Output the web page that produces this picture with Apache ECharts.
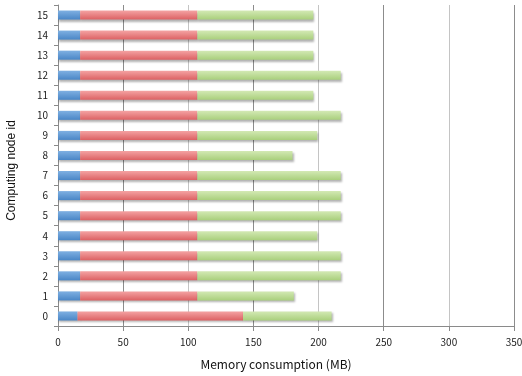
<!DOCTYPE html>
<html>
<head>
<meta charset="utf-8">
<script src="https://cdn.jsdelivr.net/npm/echarts@6/dist/echarts.min.js"></script>
<style>
  html, body { margin: 0; padding: 0; background: #fff; }
  #chart { width: 522px; height: 376px; }
</style>
</head>
<body>
<div id="chart"></div>
<script>
// Memory consumption per computing node, split into three stacked parts (MB)
const nodeIds = ['0','1','2','3','4','5','6','7','8','9','10','11','12','13','14','15'];
const partA = [15, 17, 17, 17, 17, 17, 17, 17, 17, 17, 17, 17, 17, 17, 17, 17];
const partB = [127, 90, 90, 90, 90, 90, 90, 90, 90, 90, 90, 90, 90, 90, 90, 90];
const partC = [68, 74, 110, 110, 92, 110, 110, 110, 73, 92, 110, 89, 110, 89, 89, 89];
const xTicks = { min: 0, max: 350, interval: 50 };

const labelFont = '"Noto Sans CJK JP", "DejaVu Sans", sans-serif';

function grad(top, bottom) {
  return new echarts.graphic.LinearGradient(0, 0, 0, 1, [
    { offset: 0, color: top },
    { offset: 1, color: bottom }
  ]);
}

const barShadow = {
  shadowColor: 'rgba(0,0,0,0.3)',
  shadowBlur: 2,
  shadowOffsetX: 1,
  shadowOffsetY: 2
};

function part(name, data, top, bottom) {
  return {
    name: name,
    type: 'bar',
    stack: 'mem',
    data: data,
    barWidth: '45%',
    itemStyle: Object.assign({ color: grad(top, bottom) }, barShadow)
  };
}

const chart = echarts.init(document.getElementById('chart'), null, { renderer: 'canvas' });
chart.setOption({
  animation: false,
  backgroundColor: '#ffffff',
  grid: { left: 58, right: 8, top: 5, bottom: 50, containLabel: false, outerBoundsMode: 'none' },
  xAxis: {
    type: 'value',
    min: xTicks.min,
    max: xTicks.max,
    interval: xTicks.interval,
    name: 'Memory consumption (MB)',
    nameLocation: 'middle',
    nameGap: 32,
    nameTextStyle: {
      fontFamily: labelFont,
      fontSize: 12,
      color: '#111',
      padding: [0, 20, 0, 0]
    },
    axisLine: { show: true, lineStyle: { color: '#8a8a8a', width: 1 } },
    axisTick: { show: true, length: 5, lineStyle: { color: '#8a8a8a' } },
    axisLabel: { fontFamily: labelFont, fontSize: 10, color: '#222', margin: 11 },
    splitLine: { show: true, lineStyle: { color: ['#c4c4c4', '#8c8c8c'], width: 1 } }
  },
  yAxis: {
    type: 'category',
    data: nodeIds,
    name: 'Computing node id',
    nameLocation: 'middle',
    nameGap: 40,
    nameTextStyle: {
      fontFamily: '"Liberation Sans", Arial, sans-serif',
      fontSize: 12,
      color: '#111',
      padding: [0, 10, 0, 0]
    },
    axisLine: { show: true, lineStyle: { color: '#8a8a8a', width: 1 } },
    axisTick: { show: true, length: 4, inside: false, lineStyle: { color: '#8a8a8a' } },
    axisLabel: { fontFamily: labelFont, fontSize: 10, color: '#222', margin: 10 },
    splitLine: { show: false }
  },
  series: [
    part('A', partA, '#7fb0e2', '#4a86c6'),
    part('B', partB, '#f4a3a3', '#dc6163'),
    part('C', partC, '#d3e9b4', '#a9cf7c')
  ]
});
</script>
</body>
</html>
